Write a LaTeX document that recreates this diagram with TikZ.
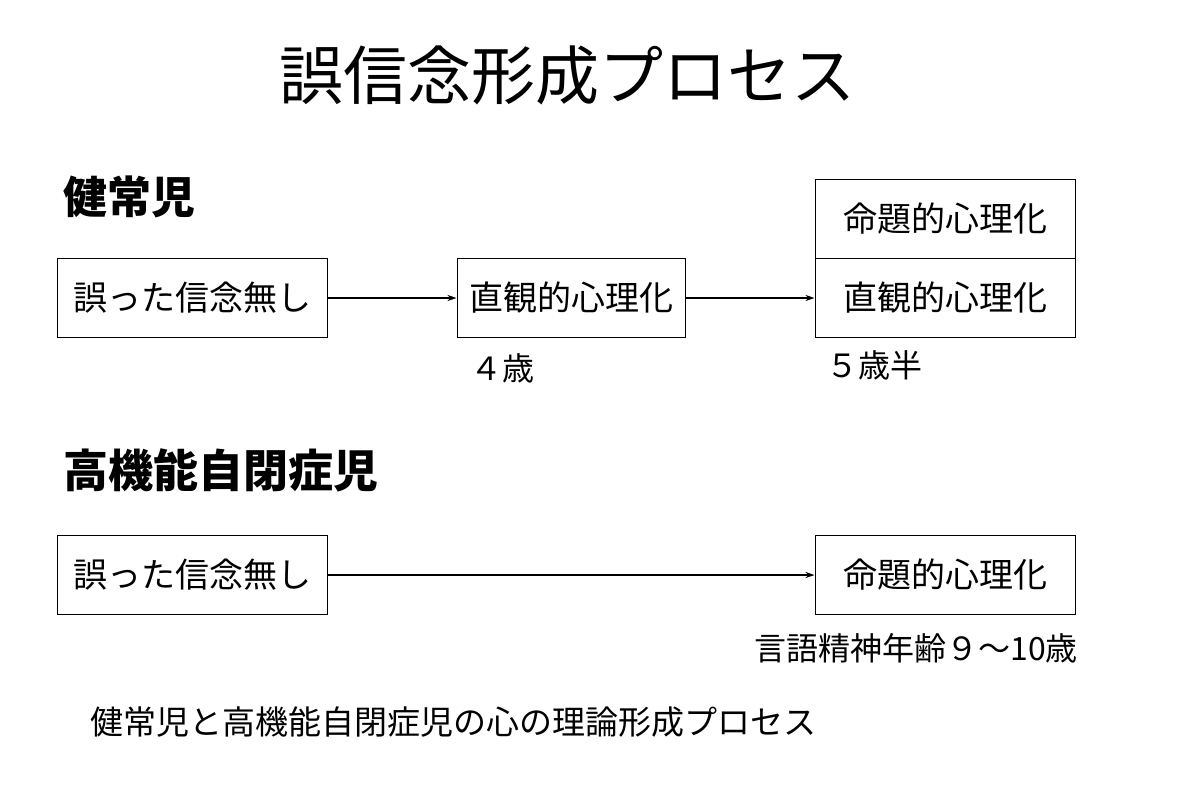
\documentclass[tikz,border=0pt]{standalone}
\usepackage{fontspec}
\setmainfont{Noto Sans CJK JP}
\usetikzlibrary{arrows.meta}
\begin{document}
\begin{tikzpicture}[x=1pt,y=-1pt,
  bx/.style={draw,line width=1pt,minimum width=#1,minimum height=79pt,inner sep=0pt,font=\fontsize{34}{36}\selectfont},
  ar/.style={-{Stealth[length=9pt,width=6pt]},line width=1.2pt},
  lb/.style={font=\fontsize{32}{34}\selectfont,inner sep=0pt}]
\useasboundingbox (0,0) rectangle (1200,788);
\node[font=\fontsize{64}{66}\selectfont] (title) at (567,75) {誤信念形成プロセス};
\node[anchor=west,font=\fontsize{44}{46}\selectfont\bfseries,inner sep=0pt] (h1) at (63,197) {健常児};
\node[bx=270pt] (a1) at (192,298) {誤った信念無し};
\node[bx=228pt] (a2) at (571,298) {直観的心理化};
\node[bx=260pt] (a3t) at (945,219) {命題的心理化};
\node[bx=260pt] (a3b) at (945,298) {直観的心理化};
\draw[ar] (a1) -- (a2);
\draw[ar] (a2) -- (a3b);
\node[lb,anchor=west] (l1) at (470,368) {４歳};
\node[lb,anchor=west] (l2) at (826,365) {５歳半};
\node[anchor=west,font=\fontsize{45}{47}\selectfont\bfseries,inner sep=0pt] (h2) at (63,470) {高機能自閉症児};
\node[bx=270pt] (b1) at (192,575) {誤った信念無し};
\node[bx=260pt] (b2) at (945,575) {命題的心理化};
\draw[ar] (b1) -- (b2);
\node[lb,anchor=east] (l3) at (1078,648) {言語精神年齢９～10歳};
\node[anchor=west,font=\fontsize{33}{35}\selectfont,inner sep=0pt] (cap) at (90,722) {健常児と高機能自閉症児の心の理論形成プロセス};
\end{tikzpicture}
\end{document}
